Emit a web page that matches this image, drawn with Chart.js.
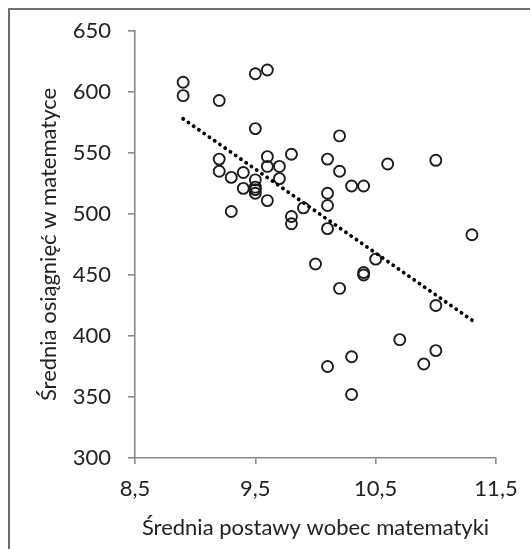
<!DOCTYPE html>
<html lang="pl">
<head>
    <meta charset="UTF-8">
    <title>Średnia osiągnięć a postawa wobec matematyki</title>
    <script src="https://cdn.jsdelivr.net/npm/chart.js"></script>
    <style>
        html, body {
            margin: 0;
            padding: 0;
            background: #ffffff;
        }
        .wrap {
            width: 530px;
            height: 549px;
        }
    </style>
</head>
<body>
    <div class="wrap">
        <canvas id="chart" width="530" height="549"></canvas>
    </div>

    <script>
        // attitude (x) and achievement (y) per school
        const attitude = [
            8.9, 8.9, 9.2, 9.5, 9.6, 9.5, 9.2, 9.2, 9.3, 9.4,
            9.6, 9.6, 9.7, 9.8, 9.5, 9.7, 9.4, 9.5, 9.5, 9.5,
            9.6, 9.3, 9.8, 9.8, 9.9, 10.1, 10.1, 10.1, 10.1, 10.2,
            10.2, 10.6, 11.0, 10.3, 10.4, 11.3, 10.0, 10.5, 10.4, 10.4,
            10.2, 11.0, 10.7, 11.0, 10.9, 10.3, 10.1, 10.3
        ];
        const achievement = [
            608, 597, 593, 615, 618, 570, 545, 535, 530, 534,
            547, 539, 539, 549, 528, 529, 521, 522, 520, 517,
            511, 502, 498, 492, 505, 545, 517, 507, 488, 564,
            535, 541, 544, 523, 523, 483, 459, 463, 452, 450,
            439, 425, 397, 388, 377, 383, 375, 352
        ];
        // end points of the dotted trend line
        const trendX = [8.9, 11.3];
        const trendY = [578, 413];

        const xTicks = [8.5, 9.5, 10.5, 11.5];
        const yTicks = [300, 350, 400, 450, 500, 550, 600, 650];

        const points = attitude.map((x, i) => ({ x: x, y: achievement[i] }));
        const trend = trendX.map((x, i) => ({ x: x, y: trendY[i] }));

        const axisGray = '#8a8a8a';
        const textColor = '#222222';
        const fontFamily = 'Lato, "Open Sans", sans-serif';

        // thin gray frame on the left and top of the picture
        const framePlugin = {
            id: 'frame',
            beforeDraw(chart) {
                const ctx = chart.ctx;
                ctx.save();
                ctx.strokeStyle = '#6e6e6e';
                ctx.lineWidth = 2;
                ctx.beginPath();
                ctx.moveTo(9, 549);
                ctx.lineTo(9, 9);
                ctx.lineTo(530, 9);
                ctx.stroke();
                ctx.restore();
            }
        };

        new Chart(document.getElementById('chart'), {
            type: 'scatter',
            data: {
                datasets: [
                    {
                        data: points,
                        pointStyle: 'circle',
                        pointRadius: 5.5,
                        pointHoverRadius: 5.5,
                        borderColor: '#1c1c1c',
                        backgroundColor: 'rgba(0,0,0,0)',
                        pointBorderWidth: 1.9,
                        order: 2
                    },
                    {
                        type: 'line',
                        data: trend,
                        showLine: true,
                        pointRadius: 0,
                        borderColor: '#000000',
                        borderWidth: 3.8,
                        borderCapStyle: 'round',
                        borderDash: [0.1, 6.3],
                        fill: false,
                        order: 1
                    }
                ]
            },
            options: {
                responsive: false,
                animation: false,
                layout: {
                    padding: { top: 31, right: 34, bottom: 0, left: 32 }
                },
                plugins: {
                    legend: { display: false },
                    tooltip: { enabled: false }
                },
                scales: {
                    x: {
                        type: 'linear',
                        min: 8.5,
                        max: 11.5,
                        afterBuildTicks: (scale) => {
                            scale.ticks = xTicks.map(v => ({ value: v }));
                        },
                        afterFit: (scale) => { scale.height = 91; },
                        border: { color: axisGray, width: 1.6 },
                        grid: {
                            drawOnChartArea: false,
                            drawTicks: true,
                            tickLength: 6,
                            color: axisGray,
                            lineWidth: 1.6
                        },
                        ticks: {
                            padding: 12,
                            color: textColor,
                            font: { family: fontFamily, size: 22 },
                            callback: (v) => v.toFixed(1).replace('.', ',')
                        },
                        title: {
                            display: true,
                            text: 'Średnia postawy wobec matematyki',
                            color: textColor,
                            font: { family: fontFamily, size: 22 },
                            padding: { top: 4, bottom: 8 }
                        }
                    },
                    y: {
                        type: 'linear',
                        min: 300,
                        max: 650,
                        afterBuildTicks: (scale) => {
                            scale.ticks = yTicks.map(v => ({ value: v }));
                        },
                        afterFit: (scale) => { scale.width = 103; },
                        border: { color: axisGray, width: 1.6 },
                        grid: {
                            drawOnChartArea: false,
                            drawTicks: true,
                            tickLength: 7,
                            color: axisGray,
                            lineWidth: 1.6
                        },
                        ticks: {
                            padding: 17,
                            color: textColor,
                            font: { family: fontFamily, size: 22 }
                        },
                        title: {
                            display: true,
                            text: 'Średnia osiągnięć w matematyce',
                            color: textColor,
                            font: { family: fontFamily, size: 22 },
                            padding: { top: 4, bottom: 4 }
                        }
                    }
                }
            },
            plugins: [framePlugin]
        });
    </script>
</body>
</html>
